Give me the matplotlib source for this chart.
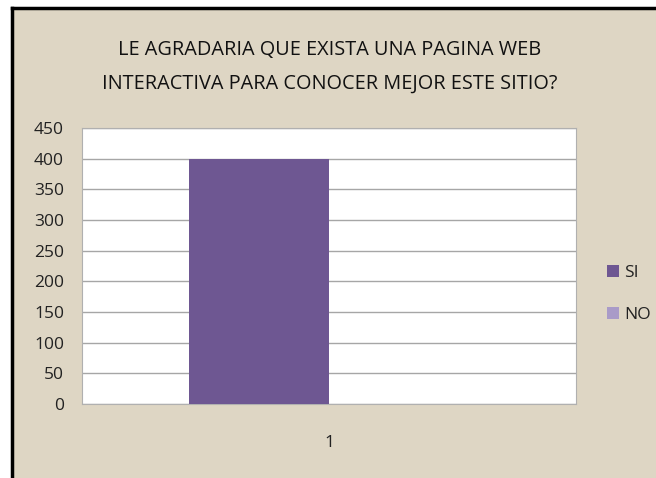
import numpy as np
import matplotlib
matplotlib.use("Agg")
import matplotlib.pyplot as plt
from matplotlib.patches import Rectangle
from matplotlib.lines import Line2D

# ---------- data ----------
categories = ["1"]
series_names = ["SI", "NO"]
series_values = [[400], [0]]
series_colors = ["#6e5792", "#a99bc8"]
yticks = [0, 50, 100, 150, 200, 250, 300, 350, 400, 450]
title = "LE AGRADARIA QUE EXISTA UNA PAGINA WEB\nINTERACTIVA PARA CONOCER MEJOR ESTE SITIO?"

W, H = 656, 478
BG = "#ded6c4"
fonts = ["Open Sans", "DejaVu Sans"]

fig = plt.figure(figsize=(W / 100, H / 100), dpi=100, facecolor="white")

# textured-paper slide background + black frame (top/left visible)
fig.patches.append(Rectangle((13 / W, 0), 1, 1 - 8 / H, transform=fig.transFigure,
                             facecolor=BG, edgecolor="none", zorder=-5))
fig.add_artist(Line2D([12 / W, 1], [1 - 8 / H, 1 - 8 / H], transform=fig.transFigure,
                      color="black", lw=2.5, zorder=-4))
fig.add_artist(Line2D([12 / W, 12 / W], [0, 1 - 8 / H], transform=fig.transFigure,
                      color="black", lw=2.5, zorder=-4))

ax = fig.add_axes([82 / W, 74 / H, 494 / W, 276 / H])
ax.set_zorder(2)
ax.set_facecolor("white")

x = np.arange(len(categories))
bw = 0.284
offsets = [-bw / 2, bw / 2]
for name, vals, col, off in zip(series_names, series_values, series_colors, offsets):
    ax.bar(x + off, vals, bw, color=col, label=name, zorder=3)

ax.set_xlim(-0.5, 0.5)
ax.set_ylim(0, 450)
ax.set_yticks(yticks)
ax.set_yticklabels([str(v) for v in yticks], family=fonts, fontsize=12.5, color="#222222")
ax.set_xticks(x)
ax.set_xticklabels(categories, family=fonts, fontsize=12.5, color="#222222")
ax.tick_params(axis="y", length=0, pad=13)
ax.tick_params(axis="x", length=0, pad=22)
ax.grid(axis="y", color="#a6a6a6", lw=1.0, zorder=1)
for s in ax.spines.values():
    s.set_color("#b0b0b0")
    s.set_linewidth(0.8)

fig.text(330 / W, 1 - 67 / H, title, ha="center", va="center", family=fonts,
         fontsize=14.3, color="#111111", linespacing=1.95)

leg = fig.legend(loc="center left", bbox_to_anchor=(600 / W, 1 - 294 / H),
                 frameon=False, prop={"family": fonts, "size": 12.5},
                 handlelength=0.7, handleheight=0.7, handletextpad=0.3,
                 labelspacing=1.5, borderaxespad=0)
for t in leg.get_texts():
    t.set_color("#222222")

fig.savefig("out.png", dpi=100, facecolor=fig.get_facecolor())
